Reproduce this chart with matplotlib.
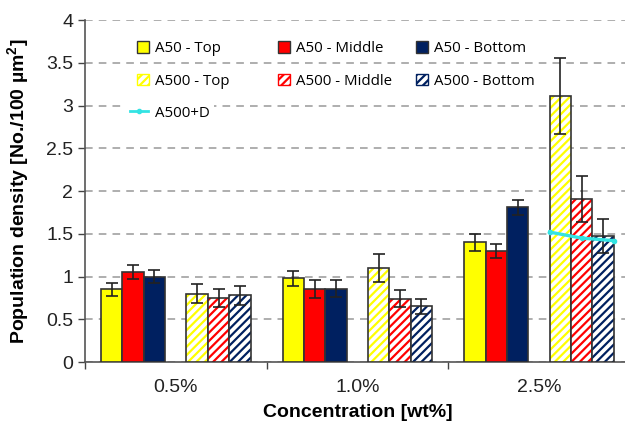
import numpy as np
import matplotlib
matplotlib.use("Agg")
import matplotlib.pyplot as plt
from matplotlib.patches import Patch
from matplotlib.lines import Line2D

plt.rcParams['font.family'] = ['Liberation Sans', 'DejaVu Sans']
plt.rcParams['hatch.linewidth'] = 1.6

concentrations = ['0.5%', '1.0%', '2.5%']

a50_top = [0.85, 0.98, 1.40]
a50_mid = [1.05, 0.85, 1.30]
a50_bot = [1.00, 0.86, 1.81]
a500_top = [0.80, 1.10, 3.11]
a500_mid = [0.75, 0.74, 1.91]
a500_bot = [0.78, 0.65, 1.47]

a50_top_err = [0.08, 0.085, 0.10]
a50_mid_err = [0.08, 0.105, 0.085]
a50_bot_err = [0.08, 0.10, 0.085]
a500_top_err = [0.11, 0.16, 0.44]
a500_mid_err = [0.105, 0.10, 0.27]
a500_bot_err = [0.11, 0.09, 0.20]

# A500+D line, only measured at 2.5%
a500d_offsets = [0.5, 2.0, 3.5]
a500d_vals = [1.52, 1.45, 1.42]

yellow = '#FFFF00'
red = '#FF0000'
navy = '#002060'
cyan = '#33E3E3'

fig = plt.figure(figsize=(6.25, 4.22), dpi=100)
ax = fig.add_axes([0.136, 0.142, 0.8715, 0.8106])

x = np.arange(len(concentrations))
w = 1 / 8.5

solid = [(a50_top, a50_top_err, yellow, -3),
         (a50_mid, a50_mid_err, red, -2),
         (a50_bot, a50_bot_err, navy, -1)]
hatched = [(a500_top, a500_top_err, yellow, 1),
           (a500_mid, a500_mid_err, red, 2),
           (a500_bot, a500_bot_err, navy, 3)]

for vals, err, col, k in solid:
    ax.bar(x + k*w, vals, w, color=col, edgecolor='#333333', linewidth=1.2, zorder=3)
    ax.errorbar(x + k*w, vals, yerr=err, fmt='none', ecolor='#222222',
                elinewidth=1.2, capsize=4, capthick=1.2, zorder=4)

for vals, err, col, k in hatched:
    ax.bar(x + k*w, vals, w, color='white', edgecolor=col, hatch='////',
           linewidth=0, zorder=3)
    ax.bar(x + k*w, vals, w, color='none', edgecolor='#333333', linewidth=1.2, zorder=3)
    ax.errorbar(x + k*w, vals, yerr=err, fmt='none', ecolor='#222222',
                elinewidth=1.2, capsize=4, capthick=1.2, zorder=4)

ax.plot(2 + np.array(a500d_offsets)*w, a500d_vals, color=cyan, lw=2.4,
        marker='o', ms=3, zorder=5)

ax.set_xlim(-0.5, 2.5)
ax.set_ylim(0, 4)
ax.set_yticks(np.arange(0, 4.01, 0.5))
ax.set_yticklabels(['0', '0.5', '1', '1.5', '2', '2.5', '3', '3.5', '4'])
ax.set_xticks(x)
ax.set_xticklabels(concentrations)
ax.set_xticks([-0.5, 0.5, 1.5], minor=True)
ax.tick_params(axis='x', which='major', length=0, labelsize=14, pad=12, colors='#222222')
ax.tick_params(axis='x', which='minor', length=5, width=1, color='#444444')
ax.tick_params(axis='y', length=5, width=1, labelsize=14, colors='#222222', color='#444444')

ax.yaxis.grid(True, linestyle=(0, (5, 4)), color='#999999', linewidth=1.1, zorder=0)
ax.set_axisbelow(True)
for s in ['top', 'right']:
    ax.spines[s].set_visible(False)
for s in ['left', 'bottom']:
    ax.spines[s].set_color('#555555')
    ax.spines[s].set_linewidth(1.2)

ax.set_xlabel('Concentration [wt%]', fontsize=14, fontweight='bold', labelpad=6)
ax.set_ylabel('Population density [No./100 µm$^\\mathregular{2}$]', fontsize=14,
              fontweight='bold', labelpad=10)

# one legend per column: Top / Middle / Bottom, A50 over A500
leg_font = {'family': 'Open Sans', 'size': 10.8}
columns = [('Top', yellow, 0.07), ('Middle', red, 0.33), ('Bottom', navy, 0.583)]
for pos, col, x0 in columns:
    h = [Patch(facecolor=col, edgecolor='#333333', label='A50 - ' + pos),
         Patch(facecolor='white', edgecolor=col, hatch='////', label='A500 - ' + pos)]
    leg = ax.legend(handles=h, loc='upper left', bbox_to_anchor=(x0, 0.978),
                    frameon=False, prop=leg_font, handlelength=0.8,
                    handleheight=0.8, handletextpad=0.4, labelspacing=1.18)
    ax.add_artist(leg)

line_h = [Line2D([], [], color=cyan, lw=2, marker='o', ms=3, label='A500+D')]
ax.legend(handles=line_h, loc='upper left', bbox_to_anchor=(0.06, 0.785),
          frameon=True, facecolor='white', edgecolor='none', framealpha=1,
          prop=leg_font, handlelength=1.2, handletextpad=0.5, borderpad=0.3)

fig.savefig('out.png', dpi=100)
